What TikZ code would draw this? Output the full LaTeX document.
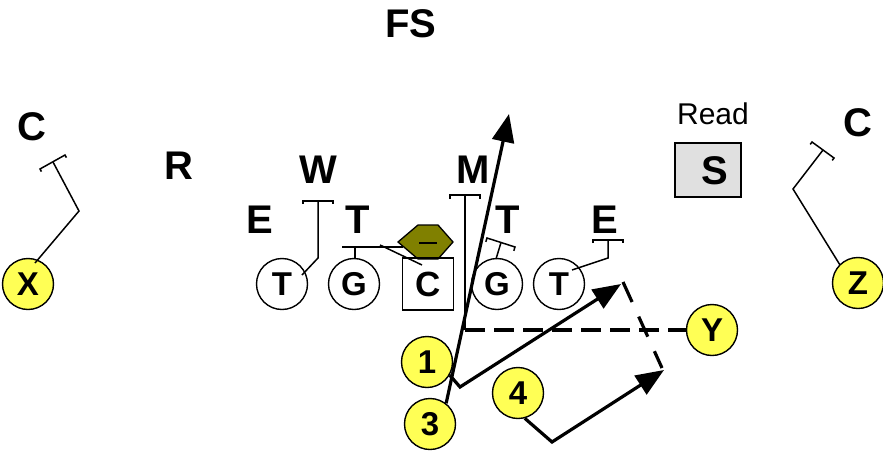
\documentclass[tikz,border=0pt]{standalone}
\usepackage{fontspec}
\setmainfont{Liberation Sans}
\usetikzlibrary{arrows.meta}
\definecolor{ryellow}{RGB}{255,255,85}
\definecolor{dolive}{RGB}{128,128,0}
\definecolor{sgray}{RGB}{224,224,224}
\begin{document}
\begin{tikzpicture}[x=1pt,y=-1pt,
  big/.style={font=\fontsize{40}{40}\selectfont\bfseries, inner sep=0pt},
  ol/.style={circle, draw, line width=1.4pt, minimum size=51pt, inner sep=0pt, font=\fontsize{33}{33}\selectfont\bfseries},
  rcv/.style={ol, fill=ryellow},
  thinl/.style={line width=1.5pt},
  route/.style={line width=3.2pt, -{Triangle[length=28pt,width=22pt]}},
  rdash/.style={line width=3.2pt, dash pattern=on 20pt off 9pt}]
\useasboundingbox (0,0) rectangle (883,450);
% labels
\node[big] (fs) at (411,24) {FS};
\node[font=\fontsize{30}{30}\selectfont, inner sep=0pt] (read) at (713,114) {Read};
\node[draw, fill=sgray, line width=1.5pt, minimum width=66pt, minimum height=54pt, inner sep=0pt] (sbox) at (708,170) {};
\node[big] (s) at (715,171) {S};
\node[big] (cl) at (32,127) {C};
\node[big] (cr) at (858,123) {C};
\node[big] (r) at (179,166) {R};
\node[big] (w) at (318,170) {W};
\node[big] (m) at (473,170) {M};
\node[big] (el) at (260,220) {E};
\node[big] (tl) at (358,220) {T};
\node[big] (tr) at (508,220) {T};
\node[big] (er) at (605,220) {E};
% nose tackle
\draw[line width=1.3pt, fill=dolive] (398,242)--(418,225)--(438,225)--(453,242)--(438,259)--(418,259)--cycle;
\draw[line width=2.2pt] (419,243)--(437,243);
% linemen
\node[ol] (lt) at (282,284) {T};
\node[ol] (lg) at (354,284) {G};
\node[draw, line width=1.4pt, minimum width=51pt, minimum height=52pt, inner sep=0pt, font=\fontsize{35}{35}\selectfont\bfseries] (c) at (428,284) {C};
\node[ol] (rg) at (497,284) {G};
\node[ol] (rt) at (559,284) {T};
% receivers
\node[rcv] (x) at (28,284) {X};
\node[rcv] (z) at (858,283) {Z};
\node[rcv] (y) at (712,330) {Y};
\node[rcv] (n1) at (427,362) {1};
\node[rcv] (n3) at (430,424) {3};
\node[rcv] (n4) at (518,393) {4};
% coordinates
\coordinate (wa) at (302,275); \coordinate (wk) at (318,258); \coordinate (wb) at (318,201);
\coordinate (ga) at (355,258); \coordinate (gb) at (355,247);
\coordinate (ca) at (422,265); \coordinate (cb) at (380,245);
\coordinate (mb) at (465,195); \coordinate (mk) at (465,330);
\coordinate (rga) at (496,259); \coordinate (rgb) at (501,242.5);
\coordinate (ea) at (572,270); \coordinate (ek) at (608,258); \coordinate (eb) at (608,240);
\coordinate (xa) at (35,263); \coordinate (xk) at (79,211); \coordinate (xb) at (53,162);
\coordinate (za) at (840,265); \coordinate (zk) at (793,189); \coordinate (zb) at (823,150);
\coordinate (tip3) at (509,114);
\coordinate (k1) at (460,387); \coordinate (tip1) at (621,284);
\coordinate (k4) at (552,442); \coordinate (tip4) at (664,370);
\coordinate (d1) at (623,282); \coordinate (d2) at (662,368);
% blocks
\draw[thinl] (wa)--(wk)--(wb);
\draw[thinl] (303,204)--(303,201)--(333,201)--(333,204);
\draw[thinl] (ga)--(gb);
\draw[thinl] (342,247)--(403,247);
\draw[thinl] (ca)--(cb);
\draw[thinl] (450,199)--(450,195)--(480,195)--(480,199);
\draw[thinl] (mb)--(mk);
\draw[rdash] (mk)--(y.west);
\draw[thinl] (485.8,241.8)--(487,238)--(515,247)--(513.8,250.8);
\draw[thinl] (rgb)--(rga);
\draw[thinl] (593,243)--(593,240)--(623,240)--(623,243);
\draw[thinl] (eb)--(ek)--(ea);
\draw[thinl] (xa)--(xk)--(xb);
\draw[thinl] (41.4,171.6)--(40,169)--(65,155)--(66.4,157.6);
\draw[thinl] (za)--(zk)--(zb);
\draw[thinl] (810.2,144.4)--(812,142)--(834,158)--(832.2,160.4);
% routes
\draw[route] (n3.52)--(tip3);
\draw[route] (n1.-30)--(k1)--(tip1);
\draw[route] (n4.-75)--(k4)--(tip4);
\draw[line width=3.2pt, dash pattern=on 22pt off 16pt] (d1)--(d2);
\end{tikzpicture}
\end{document}
